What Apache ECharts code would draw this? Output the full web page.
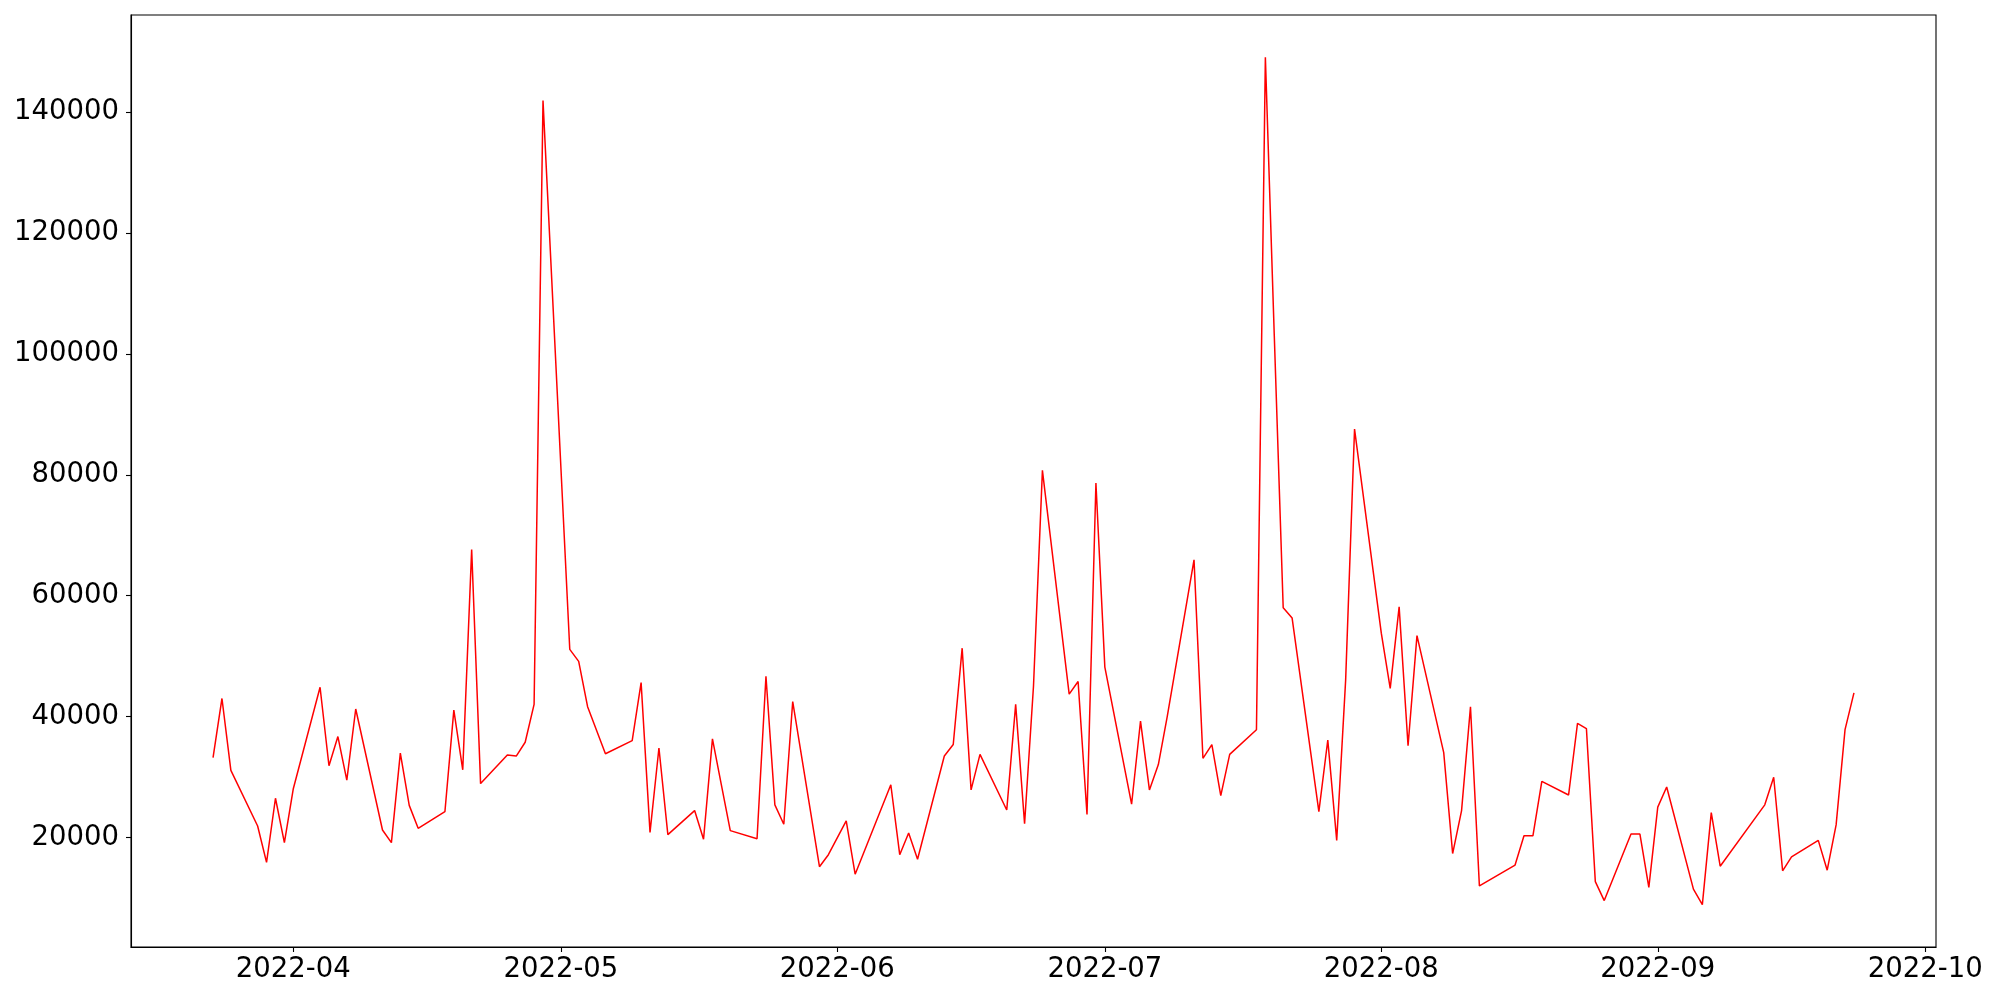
<!DOCTYPE html>
<html>
<head>
<meta charset="utf-8">
<script src="https://cdn.jsdelivr.net/npm/echarts@6/dist/echarts.min.js"></script>
<style>
html,body{margin:0;padding:0;background:#fff;}
#chart{width:2000px;height:1000px;}
</style>
</head>
<body>
<div id="chart"></div>
<script>
const dates = [
'2022-03-23','2022-03-24','2022-03-25','2022-03-28','2022-03-29','2022-03-30','2022-03-31','2022-04-01',
'2022-04-04','2022-04-05','2022-04-06','2022-04-07','2022-04-08',
'2022-04-11','2022-04-12','2022-04-13','2022-04-14','2022-04-15',
'2022-04-18','2022-04-19','2022-04-20','2022-04-21','2022-04-22',
'2022-04-25','2022-04-26','2022-04-27','2022-04-28','2022-04-29',
'2022-05-02','2022-05-03','2022-05-04','2022-05-06',
'2022-05-09','2022-05-10','2022-05-11','2022-05-12','2022-05-13',
'2022-05-16','2022-05-17','2022-05-18','2022-05-19','2022-05-20',
'2022-05-23','2022-05-24','2022-05-25','2022-05-26','2022-05-27',
'2022-05-30','2022-05-31','2022-06-02','2022-06-03',
'2022-06-07','2022-06-08','2022-06-09','2022-06-10',
'2022-06-13','2022-06-14','2022-06-15','2022-06-16','2022-06-17',
'2022-06-20','2022-06-21','2022-06-22','2022-06-23','2022-06-24',
'2022-06-27','2022-06-28','2022-06-29','2022-06-30','2022-07-01',
'2022-07-04','2022-07-05','2022-07-06','2022-07-07','2022-07-08',
'2022-07-11','2022-07-12','2022-07-13','2022-07-14','2022-07-15',
'2022-07-18','2022-07-19','2022-07-20','2022-07-21','2022-07-22',
'2022-07-25','2022-07-26','2022-07-27','2022-07-28','2022-07-29',
'2022-08-01','2022-08-02','2022-08-03','2022-08-04','2022-08-05',
'2022-08-08','2022-08-09','2022-08-10','2022-08-11','2022-08-12',
'2022-08-16','2022-08-17','2022-08-18','2022-08-19',
'2022-08-22','2022-08-23','2022-08-24','2022-08-25','2022-08-26',
'2022-08-29','2022-08-30','2022-08-31','2022-09-01','2022-09-02',
'2022-09-05','2022-09-06','2022-09-07','2022-09-08',
'2022-09-13','2022-09-14','2022-09-15','2022-09-16',
'2022-09-19','2022-09-20','2022-09-21','2022-09-22','2022-09-23'
];
const values = [
33200,43000,31100,21900,15900,26500,19150,28070,
44860,31870,36700,29500,41260,
21240,19150,33950,25320,21520,
24270,41070,31200,67640,28920,
33670,33480,35760,42020,141900,
51130,49130,41640,33860,
36040,45620,20860,34810,20480,
24460,19720,36330,28700,21140,
19810,46670,25410,22190,42490,
15170,17160,22760,13930,
28730,17160,20760,16400,
33480,35380,51320,27880,33760,
24560,42020,22280,45060,80730,
43730,45810,23800,78650,48190,
25510,39270,27880,32060,40050,
65930,33100,35380,26930,33760,
37840,149050,103000,58000,56300,
24270,36130,19530,46000,87570,
53800,44680,58150,35190,53400,
34050,17350,24460,41640,12000,
15450,20290,20290,29300,
27030,38890,38030,12700,9570,
20570,20570,11750,25030,28360,
11460,8900,24130,15260,
25410,29970,14500,16800,
19530,14600,22090,37840,43920
];
const yTicks = [20000,40000,60000,80000,100000,120000,140000];
const xTickLabels = ['2022-04','2022-05','2022-06','2022-07','2022-08','2022-09','2022-10'];

function ts(s){
  const p = s.split('-').map(Number);
  return Date.UTC(p[0], p[1]-1, p[2] || 1);
}
const firstT = ts(dates[0]);
const lastT = ts(dates[dates.length-1]);
const span = lastT - firstT;
const yMinData = Math.min.apply(null, values);
const yMaxData = Math.max.apply(null, values);
const ySpan = yMaxData - yMinData;
const xTickVals = xTickLabels.map(ts);

const seriesData = dates.map((d,i)=>[ts(d), values[i]]);
const font = 'DejaVu Sans';

const chart = echarts.init(document.getElementById('chart'), null, {renderer:'canvas'});
chart.setOption({
  animation: false,
  backgroundColor: '#ffffff',
  grid: {left:131, right:64, top:15, bottom:53, show:true, borderColor:'#000', borderWidth:1.1, backgroundColor:'transparent'},
  xAxis: {
    type: 'value',
    min: firstT - 0.05*span,
    max: lastT + 0.05*span,
    scale: true,
    splitLine: {show:false},
    axisLine: {show:true, lineStyle:{color:'#000', width:1.1}},
    axisTick: {show:true, length:5, lineStyle:{color:'#000', width:1.1}, customValues: xTickVals},
    axisLabel: {
      customValues: xTickVals,
      color:'#000', fontFamily: font, fontSize: 27.5, margin: 9,
      formatter: function(v){
        const i = xTickVals.indexOf(v);
        return i >= 0 ? xTickLabels[i] : '';
      }
    }
  },
  yAxis: {
    type: 'value',
    min: yMinData - 0.05*ySpan,
    max: yMaxData + 0.05*ySpan,
    splitLine: {show:false},
    axisLine: {show:true, lineStyle:{color:'#000', width:1.1}},
    axisTick: {show:true, length:5, lineStyle:{color:'#000', width:1.1}, customValues: yTicks},
    axisLabel: {
      customValues: yTicks, color:'#000', fontFamily: font, fontSize: 27.5, margin: 12,
      formatter: function(v){ return String(Math.round(v)); }
    }
  },
  series: [{
    type: 'line',
    data: seriesData,
    symbol: 'none',
    lineStyle: {color:'#ff0000', width:1.5},
    itemStyle: {color:'#ff0000'}
  }]
});
</script>
</body>
</html>
